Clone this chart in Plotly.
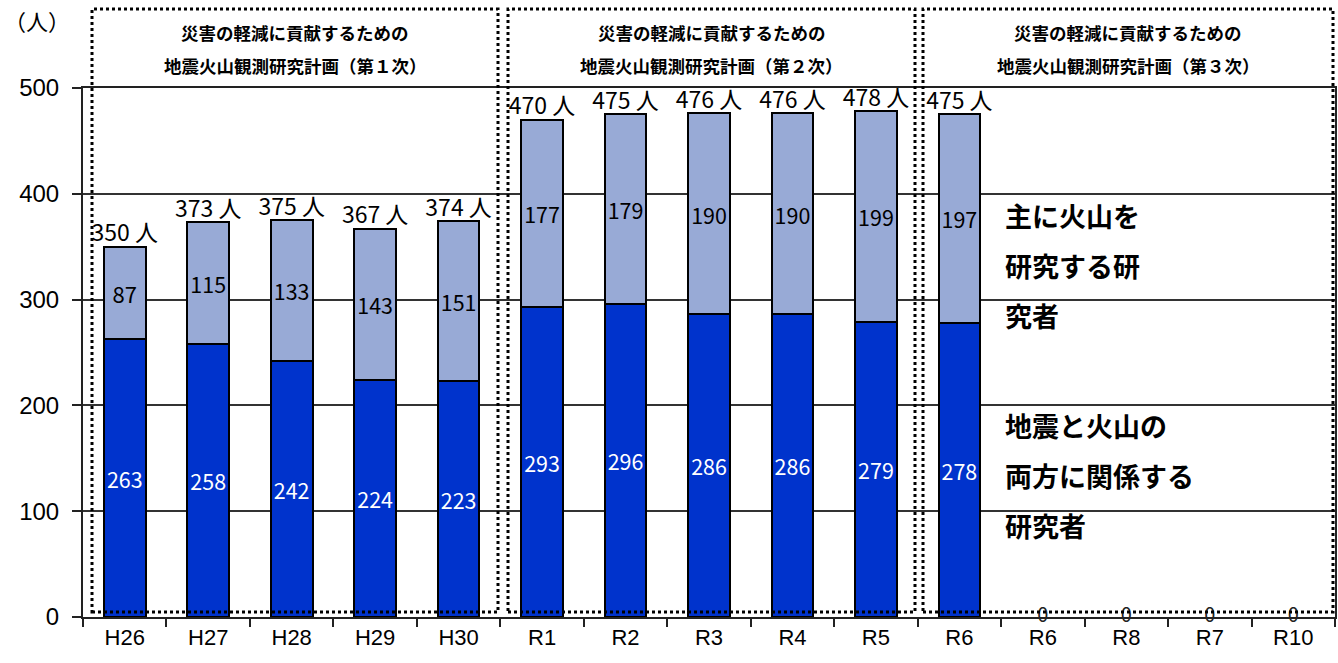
import plotly.graph_objects as go

categories = ["H26", "H27", "H28", "H29", "H30", "R1", "R2", "R3", "R4", "R5",
              "R6", "R6", "R8", "R7", "R10"]
both_researchers = [263, 258, 242, 224, 223, 293, 296, 286, 286, 279, 278, 0, 0, 0, 0]
volcano_researchers = [87, 115, 133, 143, 151, 177, 179, 190, 190, 199, 197, None, None, None, None]
totals = [350, 373, 375, 367, 374, 470, 475, 476, 476, 478, 475]
y_ticks = [0, 100, 200, 300, 400, 500]
plan_titles = ["災害の軽減に貢献するための", "地震火山観測研究計画（第１次）",
               "地震火山観測研究計画（第２次）", "地震火山観測研究計画（第３次）"]
label_volcano = ["主に火山を", "研究する研", "究者"]
label_both = ["地震と火山の", "両方に関係する", "研究者"]

JP = "Noto Sans CJK JP"
xpos = list(range(len(categories)))

DARK = "#0033CC"
LIGHT = "#98AAD6"

fig = go.Figure()

dark_text = [str(v) if v else "" for v in both_researchers]
dark_outline = [2 if v else 0 for v in both_researchers]
fig.add_trace(go.Bar(
    x=xpos, y=both_researchers, marker=dict(color=DARK, line=dict(color="black", width=dark_outline)),
    width=0.5, text=dark_text, textposition="inside", insidetextanchor="middle",
    textfont=dict(color="white", size=22, family=JP), textangle=0, hoverinfo="skip",
))
light_text = [str(v) if v is not None else "" for v in volcano_researchers]
fig.add_trace(go.Bar(
    x=xpos, y=volcano_researchers, marker=dict(color=LIGHT, line=dict(color="black", width=2)),
    width=0.5, text=light_text, textposition="inside", insidetextanchor="middle",
    textfont=dict(color="black", size=22, family=JP), textangle=0, hoverinfo="skip",
))
# totals above bars
fig.add_trace(go.Scatter(
    x=xpos[:len(totals)], y=totals, mode="text", text=[f"{t} 人" for t in totals],
    textposition="top center", textfont=dict(size=23, family=JP, color="black"),
    cliponaxis=False, hoverinfo="skip",
))
# zero labels
zero_x = [x for x, v in zip(xpos, both_researchers) if v == 0]
fig.add_trace(go.Scatter(
    x=zero_x, y=[0] * len(zero_x), mode="text", text=["0"] * len(zero_x),
    textposition="middle center", textfont=dict(size=20, family=JP, color="#222222"),
    cliponaxis=False, hoverinfo="skip",
))

fig.update_layout(
    barmode="stack", showlegend=False, width=1338, height=663,
    margin=dict(l=83, r=3, t=88, b=46, autoexpand=False),
    plot_bgcolor="white", paper_bgcolor="white",
    xaxis=dict(
        range=[-0.5, len(categories) - 0.5], tickmode="array", tickvals=xpos, ticktext=categories,
        ticks="", showgrid=False, zeroline=False, showline=True, linecolor="#222", linewidth=2,
        mirror=True, automargin=False,
        tickfont=dict(family="Liberation Sans Narrow, Arial Narrow, Liberation Sans", size=22, color="black"),
        minor=dict(tickmode="array", tickvals=[i - 0.5 for i in range(len(categories) + 1)],
                   ticks="outside", ticklen=8, tickwidth=2, tickcolor="#222", showgrid=False),
    ),
    yaxis=dict(
        range=[0, 500], tickmode="array", tickvals=y_ticks, ticks="outside", ticklen=9,
        tickwidth=2, tickcolor="#222", showgrid=True, gridcolor="#333", gridwidth=1.5,
        zeroline=False, showline=True, linecolor="#222", linewidth=2, mirror=True, automargin=False,
        ticklabelstandoff=8,
        tickfont=dict(family="Liberation Sans, Arial", size=24, color="black"),
    ),
    font=dict(family=JP),
)

# paper coordinate helpers (pixel positions of the reference layout)
W0, W = 83.0, 1335.0 - 83.0
H0, H = 617.0, 617.0 - 88.0
def px_x(p):
    return (p - W0) / W
def px_y(p):
    return (H0 - p) / H

annotations = []
annotations.append(dict(xref="paper", yref="paper", x=px_x(2), y=px_y(20), xanchor="left", yanchor="middle",
                        text="（人）", showarrow=False, font=dict(size=22, family=JP, color="black")))

boxes = [(92, 498), (508, 915), (923, 1333)]
shapes = []
for i, (l, r) in enumerate(boxes):
    shapes.append(dict(type="rect", xref="paper", yref="paper",
                       x0=px_x(l), x1=px_x(r), y0=px_y(612), y1=px_y(9),
                       line=dict(color="black", width=3, dash="dot"), layer="above"))
    cx = px_x((l + r) / 2)
    annotations.append(dict(xref="paper", yref="paper", x=cx, y=px_y(33), text="<b>" + plan_titles[0] + "</b>",
                            xanchor="center", yanchor="middle",
                            showarrow=False, font=dict(size=17.5, family=JP, color="black")))
    annotations.append(dict(xref="paper", yref="paper", x=cx, y=px_y(65), text="<b>" + plan_titles[i + 1] + "</b>",
                            xanchor="center", yanchor="middle",
                            showarrow=False, font=dict(size=17.5, family=JP, color="black")))

for lines, ys in ((label_volcano, [215, 265, 315]), (label_both, [425, 475, 525])):
    for t, yy in zip(lines, ys):
        annotations.append(dict(xref="paper", yref="paper", x=px_x(1003), y=px_y(yy), text="<b>" + t + "</b>",
                                xanchor="left", yanchor="middle", showarrow=False,
                                font=dict(size=27, family=JP, color="black")))

fig.update_layout(annotations=annotations, shapes=shapes)
fig.write_html("out.html", config={"displayModeBar": False},
               post_script="document.body.style.margin='0';document.body.style.padding='0';")
